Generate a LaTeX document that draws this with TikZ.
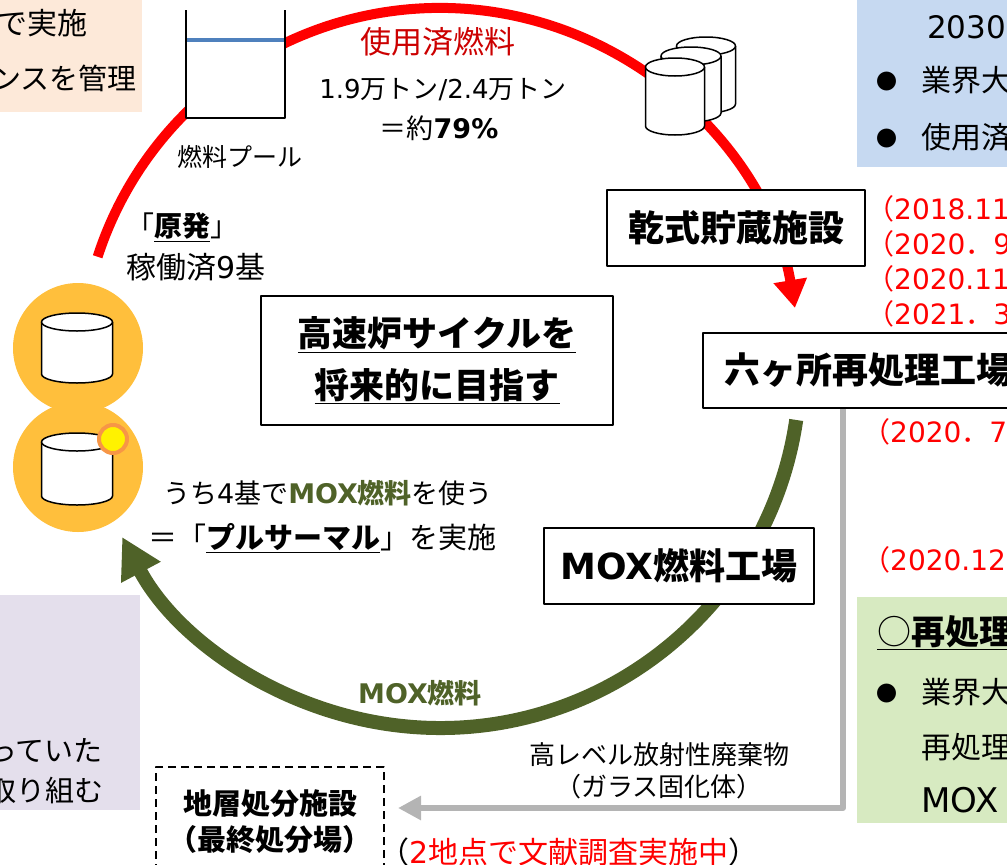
\documentclass[tikz,border=0pt]{standalone}
\usepackage{fontspec}
\setmainfont{Noto Sans CJK JP}
\newfontfamily\lat{DejaVu Sans}
\usetikzlibrary{arrows.meta}
\definecolor{fuelred}{RGB}{255,0,0}
\definecolor{spentred}{RGB}{204,0,0}
\definecolor{moxgreen}{RGB}{79,98,40}
\definecolor{wastegray}{RGB}{180,180,180}
\definecolor{water}{RGB}{79,129,189}
\definecolor{reactor}{RGB}{255,191,60}
\definecolor{ring}{RGB}{247,150,70}
\definecolor{notepeach}{RGB}{253,233,217}
\definecolor{noteblue}{RGB}{198,217,241}
\definecolor{notegreen}{RGB}{215,234,193}
\definecolor{notepurple}{RGB}{228,223,236}
\newcommand\bul{\makebox[45pt][l]{\raisebox{2pt}{\fontsize{21}{21}\selectfont ●}}}
\begin{document}
\begin{tikzpicture}[
	x=1pt,y=-1pt,
	line join=round,
	box/.style={draw,line width=2pt,fill=white,inner sep=0pt,font=\bfseries\fontsize{36}{40}\selectfont},
	lab/.style={inner sep=0pt,font=\fontsize{#1}{#1}\selectfont},
	fuelarc/.style={line width=10pt,fuelred,-{Triangle[width=32pt,length=28pt]}},
	moxarc/.style={line width=14pt,moxgreen,-{Triangle[width=42pt,length=40pt]}},
	wastearc/.style={line width=6pt,wastegray,-{Triangle[width=23pt,length=23pt]}},
	drum/.style={fill=white,line width=1.5pt}
	]
	\useasboundingbox (0,0) rectangle (1007,865);
	\clip (0,0) rectangle (1007,865);
	% side notes
	\fill[notepeach] (0,0) rectangle (142,112);
	\fill[noteblue] (857,0) rectangle (1007,167);
	\fill[notegreen] (857,597) rectangle (1007,823);
	\fill[notepurple] (0,595) rectangle (140,810);
	% cycle
	\coordinate (hub) at (440,368);
	\draw[fuelarc] (hub) ++(-162:360) arc[start angle=-162,end angle=-9.6,radius=360];
	\draw[moxarc] (hub) ++(8.3:360) arc[start angle=8.3,end angle=152,radius=360];
	% fuel pool
	\fill[white] (186,10) rectangle (285,118);
	\draw[line width=1.5pt] (186,10) |- (285,118) -- (285,10);
	\draw[line width=3.5pt,water] (187,40) -- (284,40);
	% reactors
	\fill[reactor] (78,348) circle[radius=65];
	\fill[reactor] (78,467) circle[radius=65];
	\foreach \cx/\cy/\cw/\ch in {706/46/59/58,691/56/60/57,675/67/59/59,77/322/71/52,77/442/71/54}{
		\filldraw[drum] (\cx-\cw/2,\cy) -- ++(0,\ch) arc[start angle=180,end angle=0,x radius=\cw/2,y radius=9] -- ++(0,-\ch);
		\filldraw[drum] (\cx,\cy) ellipse[x radius=\cw/2,y radius=9];
	}
	\filldraw[fill=yellow,draw=ring,line width=4pt] (113,439) circle[radius=14];
	% facilities
	\node[box,minimum width=258pt,minimum height=76pt] (dry) at (736,228) {乾式貯蔵施設};
	\node[box,anchor=west,minimum height=75pt,inner xsep=21pt] (rokka) at (702,370.5) {六ヶ所再処理工場};
	\node[box,minimum width=352pt,minimum height=129pt,align=center,font=\bfseries\fontsize{35}{52}\selectfont] (fbr) at (437,360.5) {\underline{高速炉サイクルを}\\\underline{将来的に目指す}};
	\node[box,minimum width=270pt,minimum height=76pt] (moxplant) at (679,566) {{\lat MOX}燃料工場};
	\node[box,dashed,dash pattern=on 8pt off 5pt,minimum width=228pt,minimum height=110pt,align=center,font=\bfseries\fontsize{29}{36}\selectfont] (chiso) at (270,822) {地層処分施設\\（最終処分場）};
	% waste
	\coordinate (wastecol) at (843,0);
	\coordinate (wasteend) at (398,808);
	\draw[wastearc] (rokka.south -| wastecol) |- (wasteend);
	% labels
	\node[lab=25] (poollab) at (240,157) {燃料プール};
	\node[lab=31,text=spentred] (spent) at (438,42) {使用済燃料};
	\node[lab=26] (amount) at (443,90) {{\lat 1.9}万トン{\lat /2.4}万トン};
	\node[lab=27] (ratio) at (439,128) {＝約\textbf{\lat 79\%}};
	\node[lab=28,anchor=west] (npp) at (126,227) {「\underline{\textbf{原発}}」};
	\node[lab=30,anchor=west] (nppcount) at (126,267) {稼働済{\lat 9}基};
	\node[lab=27] (pluth) at (328,493) {うち{\lat 4}基で\textcolor{moxgreen}{\textbf{{\lat MOX}燃料}}を使う};
	\node[lab=29] (pluthname) at (322,538) {＝「\underline{\textbf{プルサーマル}}」を実施};
	\node[lab=27,text=moxgreen] (moxlab) at (420,693) {\textbf{{\lat MOX}燃料}};
	\node[lab=26] (hlw) at (659,755) {高レベル放射性廃棄物};
	\node[lab=26] (glass) at (659,787) {（ガラス固化体）};
	\node[lab=30,anchor=west] (survey) at (379,852) {（\textcolor{fuelred}{{\lat 2}地点で文献調査実施中}）};
	% dates
	\node[lab=28,anchor=west,text=fuelred] (d1) at (866,209) {（{\lat 2018.11}};
	\node[lab=28,anchor=west,text=fuelred] (d2) at (866,244) {（{\lat 2020}．{\lat 9}};
	\node[lab=28,anchor=west,text=fuelred] (d3) at (866,279) {（{\lat 2020.11}};
	\node[lab=28,anchor=west,text=fuelred] (d4) at (866,314) {（{\lat 2021}．{\lat 3}};
	\node[lab=28,anchor=west,text=fuelred] (d5) at (862,432) {（{\lat 2020}．{\lat 7}};
	\node[lab=28,anchor=west,text=fuelred] (d6) at (862,560) {（{\lat 2020.12}};
	% note texts
	\node[lab=30,anchor=east] (peach1) at (88,23) {で実施};
	\node[lab=29,anchor=east] (peach2) at (137,78) {ンスを管理};
	\node[lab=31,anchor=west] (plan) at (927,27) {\lat 2030};
	\node[lab=30,anchor=west] (plan1) at (876,80) {\bul 業界大};
	\node[lab=30,anchor=west] (plan2) at (876,137) {\bul 使用済};
	\node[lab=34,anchor=west] (rep0) at (877,633) {\underline{○\textbf{再処理}}};
	\node[lab=30,anchor=west] (rep1) at (876,692) {\bul 業界大};
	\node[lab=30,anchor=west] (rep2) at (921,747) {再処理};
	\node[lab=34,anchor=west] (rep3) at (921,800) {\lat MOX};
	\node[lab=29,anchor=east] (lav1) at (103,750) {っていた};
	\node[lab=29,anchor=east] (lav2) at (104,790) {取り組む};
\end{tikzpicture}
\end{document}
